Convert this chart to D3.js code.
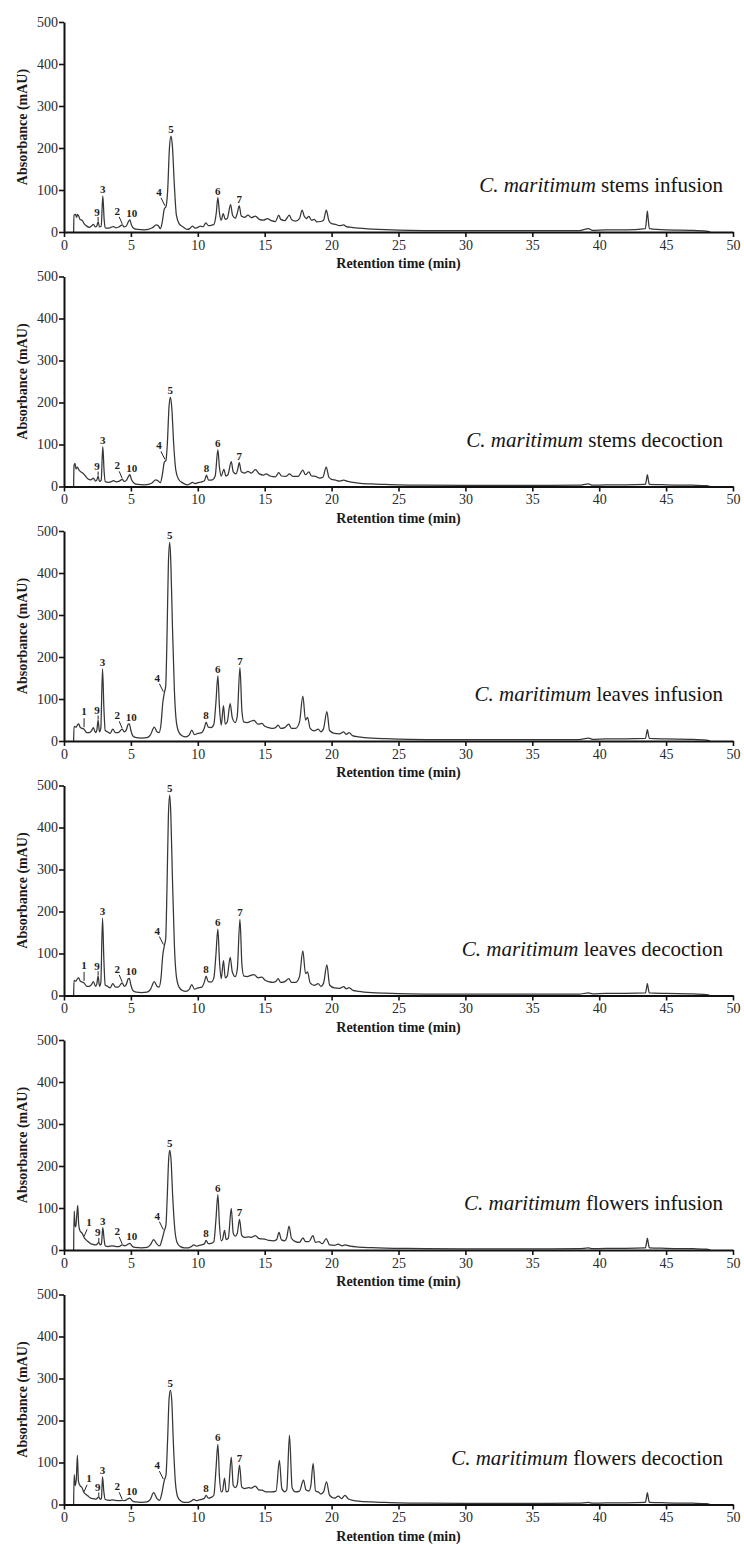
<!DOCTYPE html>
<html>
<head>
<meta charset="utf-8">
<script src="https://cdn.jsdelivr.net/npm/d3@7/dist/d3.min.js"></script>
<style>
  html, body { margin: 0; padding: 0; background: #fff; }
  svg { display: block; }
  text { font-family: "Liberation Serif", "Times New Roman", serif; }
</style>
</head>
<body>
<svg id="chart" width="744" height="1544"></svg>
<script>
// Retention time (min) / absorbance (mAU) pairs for each extract
const stemsInfusion = [[0.72,0],[0.75,40],[0.85,42],[0.95,35],[1.0,42],[1.1,38],[1.2,30],[1.35,28],[1.5,20],[1.7,14],[1.9,11],[2.05,14],[2.2,18],[2.35,12],[2.45,14],[2.55,25],[2.65,12],[2.78,14],[2.9,86],[3.0,30],[3.08,10],[3.3,9],[3.5,11],[3.7,13],[3.9,10],[4.1,12],[4.35,17],[4.5,12],[4.65,14],[4.82,25],[4.92,29],[5.05,16],[5.25,8],[5.5,6],[6.0,5],[6.3,6],[6.6,10],[6.9,17],[7.05,15],[7.2,8],[7.35,25],[7.5,55],[7.62,60],[7.75,100],[7.88,200],[8.0,228],[8.1,205],[8.25,110],[8.4,40],[8.6,20],[8.9,12],[9.2,6],[9.4,8],[9.6,14],[9.8,9],[10.0,11],[10.2,14],[10.4,12],[10.6,22],[10.8,15],[11.0,16],[11.2,18],[11.38,45],[11.5,82],[11.62,45],[11.75,28],[11.9,44],[12.05,30],[12.2,32],[12.45,65],[12.6,40],[12.8,33],[12.95,45],[13.1,62],[13.25,38],[13.5,35],[13.75,40],[14.0,34],[14.3,38],[14.6,30],[14.9,28],[15.2,32],[15.5,27],[15.8,25],[16.05,40],[16.2,30],[16.5,27],[16.85,40],[17.0,30],[17.3,26],[17.6,32],[17.8,52],[17.95,38],[18.1,32],[18.3,37],[18.5,28],[18.7,30],[18.9,24],[19.2,25],[19.4,28],[19.6,52],[19.8,27],[20.0,20],[20.3,18],[20.6,15],[20.9,17],[21.1,13],[21.5,11],[22,9],[23,7],[24,5.5],[25,4.5],[27,3.5],[30,3],[33,3],[36,3],[38.5,3.5],[39.2,8],[39.5,4],[40.5,5],[42,5],[43.45,8],[43.55,35],[43.6,50],[43.65,35],[43.75,8],[45,5],[47,4],[48,2],[48.3,0]];

const stemsDecoction = [[0.72,0],[0.75,50],[0.82,55],[0.9,42],[1.0,46],[1.1,40],[1.25,35],[1.4,32],[1.6,25],[1.8,18],[2.0,16],[2.2,20],[2.35,13],[2.45,15],[2.55,25],[2.65,12],[2.78,15],[2.9,95],[3.0,35],[3.08,12],[3.3,10],[3.5,11],[3.7,14],[3.9,11],[4.1,12],[4.35,17],[4.5,12],[4.65,14],[4.82,24],[4.92,28],[5.05,16],[5.25,8],[5.5,5],[6.0,4],[6.3,5],[6.6,9],[6.85,16],[7.05,13],[7.2,9],[7.35,28],[7.5,58],[7.62,62],[7.72,100],[7.85,190],[7.95,212],[8.05,190],[8.2,100],[8.35,40],[8.55,18],[8.9,8],[9.2,4],[9.4,6],[9.6,10],[9.8,7],[10.0,9],[10.3,11],[10.5,14],[10.65,27],[10.8,15],[11.1,16],[11.3,25],[11.5,87],[11.62,45],[11.75,25],[11.95,41],[12.1,25],[12.25,28],[12.5,59],[12.65,35],[12.85,30],[12.98,40],[13.1,57],[13.25,35],[13.5,32],[13.75,36],[14.0,32],[14.3,40],[14.6,30],[14.9,27],[15.1,30],[15.4,25],[15.8,23],[16.05,33],[16.25,25],[16.6,24],[16.85,30],[17.1,24],[17.5,24],[17.85,39],[18.05,28],[18.3,35],[18.5,25],[18.8,24],[19.1,20],[19.35,22],[19.6,46],[19.8,22],[20.0,17],[20.3,15],[20.6,13],[20.9,15],[21.2,12],[21.6,10],[22,8],[23,6],[24,5],[25,4],[27,3],[30,2.5],[33,2.5],[36,2.5],[38.5,3],[39.2,6],[39.5,3],[40.5,4],[42,4],[43.45,5],[43.55,20],[43.6,28],[43.65,20],[43.75,5],[45,4],[47,3],[48,2],[48.3,0]];

const leavesInfusion = [[0.72,0],[0.75,35],[0.9,33],[1.0,38],[1.1,41],[1.2,33],[1.35,30],[1.5,28],[1.7,20],[1.9,20],[2.05,24],[2.2,32],[2.35,20],[2.45,25],[2.55,50],[2.65,22],[2.75,30],[2.88,172],[2.98,80],[3.08,25],[3.25,22],[3.45,18],[3.65,28],[3.85,20],[4.05,20],[4.35,28],[4.5,22],[4.65,26],[4.8,40],[4.88,41],[5.0,25],[5.15,12],[5.4,8],[5.8,7],[6.2,8],[6.45,14],[6.75,33],[6.95,22],[7.1,20],[7.25,40],[7.38,90],[7.5,115],[7.6,130],[7.7,250],[7.8,420],[7.9,473],[7.98,430],[8.1,280],[8.25,120],[8.4,45],[8.6,20],[8.85,12],[9.1,10],[9.35,14],[9.55,26],[9.75,15],[10.0,18],[10.3,20],[10.5,32],[10.62,45],[10.78,33],[11.0,32],[11.2,40],[11.35,90],[11.5,155],[11.62,80],[11.75,38],[11.92,84],[12.05,40],[12.2,45],[12.42,89],[12.58,55],[12.8,44],[12.95,60],[13.15,175],[13.3,70],[13.45,45],[13.7,44],[13.95,47],[14.2,49],[14.5,40],[14.8,42],[15.0,35],[15.3,32],[15.6,30],[15.85,33],[16.0,38],[16.2,30],[16.5,32],[16.8,40],[17.0,30],[17.3,30],[17.6,45],[17.85,107],[18.05,50],[18.2,56],[18.4,30],[18.7,24],[19.0,28],[19.2,22],[19.4,30],[19.65,70],[19.85,25],[20.2,18],[20.6,17],[20.9,22],[21.1,16],[21.3,20],[21.6,12],[22,10],[23,7],[24,5.5],[25,4.5],[27,3.5],[30,3],[33,3],[36,3],[38.5,3.5],[39.2,7],[39.5,4],[40.5,5],[42,5],[43.45,6],[43.55,20],[43.6,27],[43.65,20],[43.75,6],[45,5],[47,4],[48,2],[48.3,0]];

const leavesDecoction = [[0.72,0],[0.75,36],[0.9,34],[1.0,40],[1.1,42],[1.2,35],[1.35,32],[1.5,30],[1.7,22],[1.9,22],[2.05,26],[2.2,33],[2.35,22],[2.45,27],[2.55,47],[2.65,22],[2.75,30],[2.88,184],[2.98,85],[3.08,25],[3.25,22],[3.45,18],[3.65,28],[3.85,20],[4.05,20],[4.35,30],[4.5,22],[4.65,26],[4.8,40],[4.88,41],[5.0,25],[5.15,12],[5.4,8],[5.8,7],[6.2,8],[6.45,14],[6.75,33],[6.95,22],[7.1,20],[7.25,42],[7.38,95],[7.5,119],[7.6,135],[7.7,260],[7.8,425],[7.9,477],[7.98,435],[8.1,285],[8.25,120],[8.4,45],[8.6,20],[8.85,12],[9.1,10],[9.35,14],[9.55,26],[9.75,15],[10.0,18],[10.3,20],[10.5,33],[10.62,46],[10.78,33],[11.0,32],[11.2,42],[11.35,95],[11.5,158],[11.62,82],[11.75,40],[11.92,83],[12.05,42],[12.2,46],[12.42,91],[12.58,56],[12.8,45],[12.95,62],[13.15,181],[13.3,72],[13.45,46],[13.7,45],[13.95,48],[14.2,50],[14.5,42],[14.8,44],[15.0,37],[15.3,33],[15.6,31],[15.85,34],[16.0,40],[16.2,31],[16.5,33],[16.8,40],[17.0,31],[17.3,31],[17.6,45],[17.85,106],[18.05,52],[18.2,56],[18.4,30],[18.7,24],[19.0,28],[19.2,22],[19.4,30],[19.65,73],[19.85,25],[20.2,18],[20.6,17],[20.9,21],[21.1,16],[21.3,19],[21.6,12],[22,10],[23,7],[24,5.5],[25,4.5],[27,3.5],[30,3],[33,3],[36,3],[38.5,3.5],[39.2,6],[39.5,4],[40.5,5],[42,5],[43.45,6],[43.55,20],[43.6,28],[43.65,20],[43.75,6],[45,5],[47,4],[48,2],[48.3,0]];

const flowersInfusion = [[0.72,0],[0.76,93],[0.82,60],[0.88,55],[0.95,80],[1.03,106],[1.1,60],[1.2,45],[1.35,40],[1.5,30],[1.65,24],[1.8,20],[2.0,15],[2.2,13],[2.4,12],[2.6,18],[2.72,12],[2.8,15],[2.9,53],[3.0,25],[3.08,10],[3.3,8],[3.6,10],[3.9,8],[4.1,8],[4.35,12],[4.55,10],[4.75,13],[4.92,16],[5.1,9],[5.3,6],[5.8,5],[6.2,6],[6.45,12],[6.7,25],[6.95,14],[7.15,10],[7.3,22],[7.5,46],[7.62,60],[7.72,130],[7.82,215],[7.9,237],[8.0,215],[8.12,130],[8.28,50],[8.45,18],[8.7,8],[9.0,5],[9.3,5],[9.5,8],[9.7,12],[9.9,9],[10.1,11],[10.35,13],[10.5,15],[10.62,23],[10.78,15],[11.0,16],[11.2,20],[11.35,70],[11.5,132],[11.62,60],[11.75,22],[11.85,25],[12.0,47],[12.12,25],[12.28,28],[12.5,99],[12.65,40],[12.8,33],[12.95,40],[13.12,73],[13.28,35],[13.5,30],[13.8,31],[14.0,30],[14.3,34],[14.6,27],[15.0,26],[15.3,23],[15.7,22],[15.9,25],[16.07,42],[16.25,24],[16.5,22],[16.65,30],[16.82,57],[17.0,28],[17.3,20],[17.6,18],[17.86,29],[18.05,20],[18.3,20],[18.6,34],[18.8,18],[19.05,20],[19.3,15],[19.6,27],[19.85,12],[20.2,11],[20.5,14],[20.8,10],[21.0,12],[21.4,9],[22,7],[23,5.5],[24,4.5],[25,4],[27,3],[30,2.5],[33,2.5],[36,2.5],[38.5,3],[39.2,5],[39.5,3],[40.5,4],[42,4],[43.45,5],[43.55,20],[43.6,28],[43.65,20],[43.75,5],[45,4],[47,3],[48,2],[48.3,0]];

const flowersDecoction = [[0.72,0],[0.76,71],[0.84,45],[0.92,60],[1.0,117],[1.08,55],[1.2,45],[1.35,40],[1.5,28],[1.65,24],[1.8,20],[2.0,15],[2.2,14],[2.4,13],[2.6,18],[2.72,12],[2.8,15],[2.88,66],[2.98,30],[3.08,12],[3.4,10],[3.6,11],[3.8,10],[4.05,9],[4.35,10],[4.55,9],[4.75,13],[4.92,15],[5.1,9],[5.3,6],[5.8,5],[6.2,6],[6.45,12],[6.7,28],[6.95,14],[7.15,10],[7.3,25],[7.5,58],[7.62,70],[7.75,160],[7.85,250],[7.95,272],[8.05,250],[8.17,150],[8.32,55],[8.5,18],[8.75,8],[9.0,5],[9.3,5],[9.5,8],[9.7,12],[9.9,9],[10.1,11],[10.35,13],[10.5,15],[10.62,22],[10.78,15],[11.0,17],[11.2,22],[11.35,80],[11.5,143],[11.62,65],[11.75,30],[11.85,33],[12.0,63],[12.12,30],[12.28,32],[12.5,113],[12.65,45],[12.8,40],[12.95,48],[13.12,94],[13.28,42],[13.5,38],[13.8,40],[14.0,39],[14.3,44],[14.55,35],[14.8,34],[15.1,30],[15.5,30],[15.85,32],[16.1,105],[16.28,38],[16.5,30],[16.65,35],[16.85,165],[17.05,40],[17.3,30],[17.6,32],[17.9,58],[18.08,35],[18.3,32],[18.45,45],[18.62,98],[18.8,32],[19.0,30],[19.2,25],[19.4,30],[19.62,54],[19.85,22],[20.2,15],[20.5,20],[20.75,14],[21.0,22],[21.25,13],[21.6,10],[22,8],[23,6],[24,5],[25,4],[27,3],[30,2.5],[33,2.5],[36,2.5],[38.5,3],[39.2,5],[39.5,3],[40.5,4],[42,4],[43.45,5],[43.55,20],[43.6,28],[43.65,20],[43.75,5],[45,4],[47,3],[48,2],[48.3,0]];

// Numbered compounds: [label, retention time, absorbance at the marked point]
const stemsInfusionPeaks = [["9",2.55,25],["3",2.9,86],["2",4.35,17],["10",4.92,29],["4",7.62,60],["5",8.0,228],["6",11.5,82],["7",13.1,62]];
const stemsDecoctionPeaks = [["9",2.55,25],["3",2.9,95],["2",4.35,17],["10",4.92,28],["4",7.62,62],["5",7.95,212],["8",10.65,27],["6",11.5,87],["7",13.1,57]];
const leavesInfusionPeaks = [["1",1.5,28],["9",2.55,50],["3",2.88,172],["2",4.35,28],["10",4.88,41],["4",7.5,115],["5",7.9,473],["8",10.62,45],["6",11.5,155],["7",13.15,175]];
const leavesDecoctionPeaks = [["1",1.5,30],["9",2.55,47],["3",2.88,184],["2",4.35,30],["10",4.88,41],["4",7.5,119],["5",7.9,477],["8",10.62,46],["6",11.5,158],["7",13.15,181]];
const flowersInfusionPeaks = [["1",1.5,30],["9",2.6,18],["3",2.9,53],["2",4.35,12],["10",4.92,16],["4",7.5,46],["5",7.9,237],["8",10.62,23],["6",11.5,132],["7",13.12,73]];
const flowersDecoctionPeaks = [["1",1.5,28],["9",2.6,18],["3",2.88,66],["2",4.35,10],["10",4.92,15],["4",7.5,58],["5",7.95,272],["8",10.62,22],["6",11.5,143],["7",13.12,94]];

const species = "C. maritimum";
const extractNames = ["stems infusion", "stems decoction", "leaves infusion", "leaves decoction", "flowers infusion", "flowers decoction"];
const xTicks = [0, 5, 10, 15, 20, 25, 30, 35, 40, 45, 50];
const yTicks = [0, 100, 200, 300, 400, 500];
const xTitle = "Retention time (min)";
const yTitle = "Absorbance (mAU)";

const traces = [stemsInfusion, stemsDecoction, leavesInfusion, leavesDecoction, flowersInfusion, flowersDecoction];
const peakSets = [stemsInfusionPeaks, stemsDecoctionPeaks, leavesInfusionPeaks, leavesDecoctionPeaks, flowersInfusionPeaks, flowersDecoctionPeaks];

// layout
const left = 64, right = 733, panelTop = 22, panelStep = 254.5, plotH = 210;

const svg = d3.select("#chart");

const x = d3.scaleLinear().domain([0, 50]).range([left, right]);

// leader-line placement for labels that point at a shoulder or a small peak
// (text offset dx/dy for the baseline, then a segment x1,y1 -> x2,y2, all in px from the point)
const leaderFor = (label, panelIndex) => {
  if (label === "4") return { dx: -7, dy: -11, seg: [-5, -9, -1, -1] };
  if (label === "2") return { dx: -5, dy: -10, seg: [-3, -8, 0, -1] };
  if (label === "9") return { dx: -1, dy: -6, seg: [0, -4.5, 0, -0.5] };
  if (label === "1") {
    return panelIndex >= 4
      ? { dx: 5, dy: -11, seg: [3, -8, 0, -1] }
      : { dx: 0, dy: -14, seg: [0, -11, 0, -2] };
  }
  if (label === "10") return { dx: 2, dy: -3, seg: null };
  return { dx: 0, dy: -3, seg: null };
};

traces.forEach((trace, i) => {
  const top = panelTop + i * panelStep;
  const y = d3.scaleLinear().domain([0, 500]).range([top + plotH, top]);
  const g = svg.append("g");

  // chromatogram trace
  const line = d3.line()
    .x(d => x(d[0]))
    .y(d => y(d[1]))
    .curve(d3.curveMonotoneX);
  g.append("path")
    .datum(trace)
    .attr("d", line)
    .attr("fill", "none")
    .attr("stroke", "#363636")
    .attr("stroke-width", 1.25)
    .attr("stroke-linejoin", "round");

  // axes
  const xAxis = g.append("g")
    .attr("transform", `translate(0,${top + plotH})`)
    .call(d3.axisBottom(x).tickValues(xTicks).tickSize(5).tickSizeOuter(0).tickPadding(3));
  const yAxis = g.append("g")
    .attr("transform", `translate(${left},0)`)
    .call(d3.axisLeft(y).tickValues(yTicks).tickSize(5).tickSizeOuter(0).tickPadding(1));
  [xAxis, yAxis].forEach(ax => {
    ax.select(".domain").attr("stroke", "#111").attr("stroke-width", 2);
    ax.selectAll(".tick line").attr("stroke", "#111").attr("stroke-width", 1.6);
    ax.selectAll(".tick text")
      .attr("fill", "#2a2a2a")
      .style("font-family", "'Liberation Serif', serif")
      .style("font-size", "14px");
  });

  // axis titles
  g.append("text")
    .attr("x", (left + right) / 2)
    .attr("y", top + plotH + 36)
    .attr("text-anchor", "middle")
    .attr("font-weight", "bold")
    .attr("font-size", 14)
    .attr("fill", "#1a1a1a")
    .text(xTitle);
  g.append("text")
    .attr("transform", `translate(27,${top + plotH / 2}) rotate(-90)`)
    .attr("text-anchor", "middle")
    .attr("font-weight", "bold")
    .attr("font-size", 14)
    .attr("fill", "#1a1a1a")
    .text(yTitle);

  // sample name
  const title = g.append("text")
    .attr("x", 723)
    .attr("y", top + plotH - 40)
    .attr("text-anchor", "end")
    .attr("font-size", 21)
    .attr("fill", "#151515");
  title.append("tspan").attr("font-style", "italic").text(species);
  title.append("tspan").text(" " + extractNames[i]);

  // compound numbers
  peakSets[i].forEach(([label, t, v]) => {
    const px = x(t), py = y(v);
    const s = leaderFor(label, i);
    if (s.seg) {
      g.append("line")
        .attr("x1", px + s.seg[0]).attr("y1", py + s.seg[1])
        .attr("x2", px + s.seg[2]).attr("y2", py + s.seg[3])
        .attr("stroke", "#222").attr("stroke-width", 1);
    }
    g.append("text")
      .attr("x", px + s.dx)
      .attr("y", py + s.dy)
      .attr("text-anchor", "middle")
      .attr("font-weight", "bold")
      .attr("font-size", 11)
      .attr("fill", "#1e1e1e")
      .text(label);
  });
});
</script>
</body>
</html>
